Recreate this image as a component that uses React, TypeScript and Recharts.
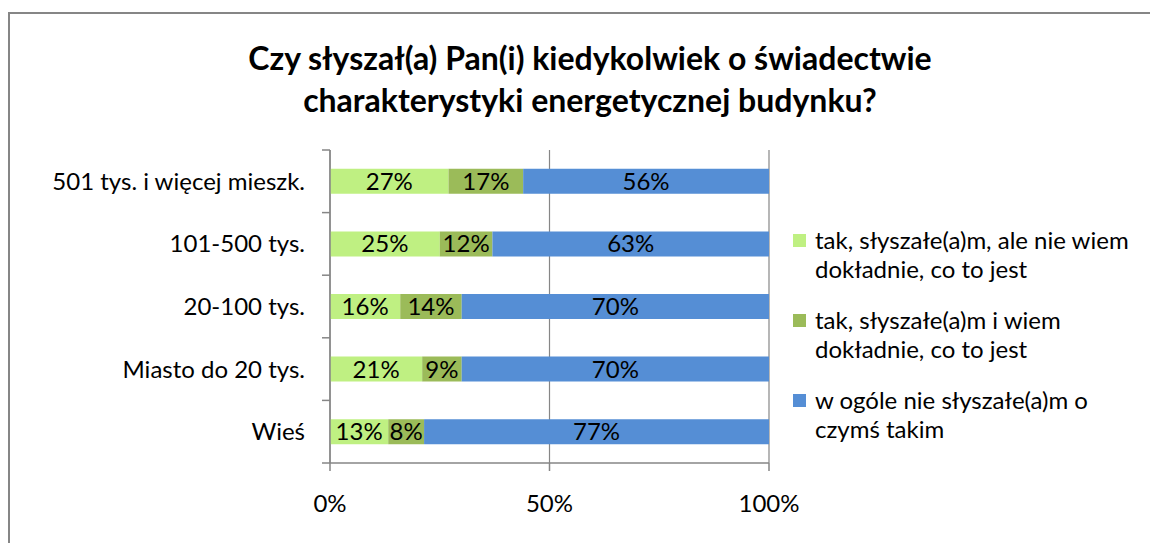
import React from 'react';
import { BarChart, Bar, XAxis, YAxis, CartesianGrid, LabelList } from 'recharts';

const categories = ['501 tys. i więcej mieszk.', '101-500 tys.', '20-100 tys.', 'Miasto do 20 tys.', 'Wieś'];
const heardNotKnow = [27, 25, 16, 21, 13];
const heardKnow = [17, 12, 14, 9, 8];
const neverHeard = [56, 63, 70, 70, 77];
const xTicks = [0, 0.5, 1];

const seriesKeys = ['heardNotKnow', 'heardKnow', 'neverHeard'] as const;

const seriesNames = {
  heardNotKnow: ['tak, słyszałe(a)m, ale nie wiem', 'dokładnie, co to jest'],
  heardKnow: ['tak, słyszałe(a)m i wiem', 'dokładnie, co to jest'],
  neverHeard: ['w ogóle nie słyszałe(a)m o', 'czymś takim'],
};

const colors = {
  heardNotKnow: '#BFF082',
  heardKnow: '#9BBB59',
  neverHeard: '#558ED5',
};

const data = categories.map((name, i) => ({
  name,
  heardNotKnow: heardNotKnow[i],
  heardKnow: heardKnow[i],
  neverHeard: neverHeard[i],
}));

const FONT = 'Lato, "Noto Sans", sans-serif';
const AXIS = '#868686';
const TICK = 8;

// tick marks between categories (band edges), like Excel draws them
const bandEdges = ({ offset }: any) =>
  Array.from({ length: categories.length + 1 }, (_, i) => offset.top + (i * offset.height) / categories.length);

const EdgeTick = (props: any) => (
  <line
    key={props.key}
    x1={props.x1 - TICK}
    x2={props.x1}
    y1={props.y1}
    y2={props.y2}
    stroke={AXIS}
    strokeWidth={1.5}
  />
);

function LegendBox() {
  return (
    <div
      style={{
        position: 'absolute',
        left: 785,
        top: 217,
        width: 365,
        fontFamily: FONT,
        fontSize: 24,
        color: '#000',
      }}
    >
      {seriesKeys.map((k) => (
        <div key={k} style={{ display: 'flex', alignItems: 'flex-start', marginBottom: 22 }}>
          <div style={{ width: 13, height: 13, background: colors[k], marginTop: 9, marginRight: 9, flexShrink: 0 }} />
          <div style={{ lineHeight: '29px' }}>
            {seriesNames[k].map((line) => (
              <div key={line}>{line}</div>
            ))}
          </div>
        </div>
      ))}
    </div>
  );
}

export default function App() {
  return (
    <div style={{ position: 'relative', width: 1150, height: 535, fontFamily: FONT }}>
      <div
        style={{
          position: 'absolute',
          left: 0,
          top: 4,
          width: 1148,
          height: 529,
          borderLeft: `2px solid ${AXIS}`,
          borderTop: `2px solid ${AXIS}`,
        }}
      />
      <div
        style={{
          position: 'absolute',
          left: 82,
          top: 29,
          width: 1000,
          textAlign: 'center',
          fontWeight: 'bold',
          fontSize: 32,
          lineHeight: '42px',
          color: '#000',
        }}
      >
        <div>Czy słyszał(a) Pan(i) kiedykolwiek o świadectwie</div>
        <div>charakterystyki energetycznej budynku?</div>
      </div>
      <BarChart
        width={1150}
        height={535}
        data={data}
        layout="vertical"
        stackOffset="expand"
        barCategoryGap="30%"
        margin={{ top: 142, right: 389, bottom: 30, left: 22 }}
        style={{ position: 'absolute', left: 0, top: 0 }}
      >
        <CartesianGrid
          stroke={AXIS}
          strokeWidth={1.2}
          horizontal={EdgeTick}
          horizontalCoordinatesGenerator={bandEdges}
        />
        <XAxis
          type="number"
          domain={[0, 1]}
          ticks={xTicks}
          tickFormatter={(v: number) => `${Math.round(v * 100)}%`}
          stroke={AXIS}
          strokeWidth={1.5}
          tickSize={TICK}
          tickMargin={24}
          height={50}
          tick={{ fill: '#000', fontSize: 24, fontFamily: FONT }}
        />
        <YAxis
          type="category"
          dataKey="name"
          width={300}
          stroke={AXIS}
          strokeWidth={1.5}
          tickSize={TICK}
          tickMargin={17}
          tickLine={false}
          interval={0}
          tick={{ fill: '#000', fontSize: 24, fontFamily: FONT }}
        />
        {seriesKeys.map((k) => (
          <Bar key={k} dataKey={k} stackId="a" fill={colors[k]} isAnimationActive={false}>
            <LabelList
              dataKey={k}
              position="center"
              formatter={(v: any) => `${v}%`}
              style={{ fill: '#000', fontSize: 24, fontFamily: FONT }}
            />
          </Bar>
        ))}
      </BarChart>
      <LegendBox />
    </div>
  );
}
